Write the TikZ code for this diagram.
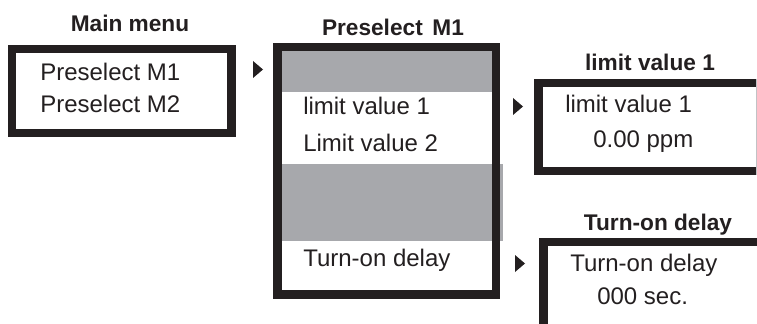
\documentclass[tikz,border=0pt]{standalone}
\usepackage{fontspec}
\setmainfont{Liberation Sans}
\definecolor{ink}{HTML}{231F20}
\definecolor{band}{HTML}{A7A8AC}
\begin{document}
\begin{tikzpicture}[x=0.75pt,y=-0.75pt,
  frame/.style={draw=ink,line width=6.4pt},
  entry/.style={anchor=base west,inner sep=0pt,text=ink,font=\fontsize{18}{21}\selectfont},
  heading/.style={anchor=base,inner sep=0pt,text=ink,font=\fontsize{17}{20}\selectfont\bfseries},
  marker/.style={fill=ink}]
\path[use as bounding box,clip] (0,0) rectangle (757,324);

% Main menu
\node[heading] (tmain) at (130,31.5) {Main menu};
\draw[frame] (12,49) rectangle (231.5,133);
\node[entry] (m1) at (40,81) {Preselect M1};
\node[entry] (m2) at (40,113) {Preselect M2};

% Preselect M1 submenu
\node[heading] (tpre) at (393,36) {Preselect\kern0.15em{} M1};
\fill[band] (282,51) rectangle (492,92);
\fill[band] (282,164) rectangle (503,241);
\draw[frame] (277.5,47) rectangle (496,294.5);
\node[entry] (p1) at (303,115) {limit value 1};
\node[entry] (p2) at (303,152) {Limit value 2};
\node[entry] (p3) at (303,267) {Turn-on delay};

% limit value 1 screen
\node[heading] (tlim) at (650,70.5) {limit value 1};
\draw[frame] (538.5,83) rectangle (790,171);
\draw[band!70!white,line width=0.8pt] (756.5,79) -- (756.5,175);
\node[entry] (l1) at (565,113) {limit value 1};
\node[entry] (l2) at (593,148) {0.00 ppm};

% Turn-on delay screen
\node[heading] (tdel) at (658,231) {Turn-on delay};
\draw[frame] (543.5,360) -- (543.5,242) -- (790,242);
\node[entry] (d1) at (570,272) {Turn-on delay};
\node[entry] (d2) at (597,304) {000 sec.};

% selection markers
\fill[marker] (253,61) -- (263,69.5) -- (253,78) -- cycle;
\fill[marker] (513,98) -- (523,106.5) -- (513,115) -- cycle;
\fill[marker] (515,255) -- (525,263.5) -- (515,272) -- cycle;
\end{tikzpicture}
\end{document}
